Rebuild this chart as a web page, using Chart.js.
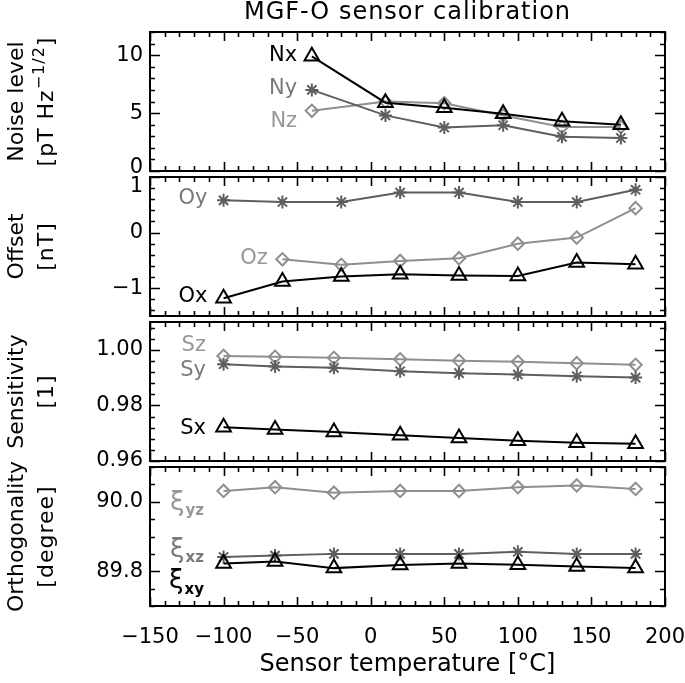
<!DOCTYPE html>
<html><head><meta charset="utf-8">
<script src="https://cdn.jsdelivr.net/npm/chart.js@4.4.1/dist/chart.umd.min.js"></script>
<style>
html,body{margin:0;padding:0;background:#fff;}
#wrap{position:relative;width:685px;height:683px;overflow:hidden;}
#wrap canvas{position:absolute;left:0;top:0;}
</style></head>
<body><div id="wrap">
<canvas id="p1" width="685" height="683"></canvas>
<canvas id="p2" width="685" height="683"></canvas>
<canvas id="p3" width="685" height="683"></canvas>
<canvas id="p4" width="685" height="683"></canvas>
</div>
<script>
// ---------- data ----------
const noiseTemps = [-40, 10, 50, 90, 130, 170];
const noiseNx = [9.9, 5.9, 5.45, 4.95, 4.3, 4.0];
const noiseNy = [7.0, 4.8, 3.75, 3.95, 2.95, 2.85];
const noiseNz = [5.2, 6.0, 5.85, 4.8, 3.8, 3.8];

const offsetTemps = [-100, -60, -20, 20, 60, 100, 140, 180];
const offsetZTemps = [-60, -20, 20, 60, 100, 140, 180];
const offsetOx = [-1.18, -0.88, -0.79, -0.75, -0.77, -0.78, -0.54, -0.57];
const offsetOy = [0.58, 0.55, 0.55, 0.72, 0.72, 0.55, 0.55, 0.77];
const offsetOz = [-0.48, -0.58, -0.51, -0.46, -0.20, -0.09, 0.44];

const calTemps = [-100, -65, -25, 20, 60, 100, 140, 180];
const sensSx = [0.9721, 0.9713, 0.9704, 0.9693, 0.9683, 0.9673, 0.9666, 0.9662];
const sensSy = [0.9948, 0.9940, 0.9935, 0.9923, 0.9916, 0.9911, 0.9905, 0.9900];
const sensSz = [0.9978, 0.9975, 0.9971, 0.9966, 0.9961, 0.9957, 0.9952, 0.9946];

const orthXY = [89.822, 89.828, 89.809, 89.818, 89.822, 89.819, 89.814, 89.809];
const orthXZ = [89.841, 89.845, 89.850, 89.850, 89.850, 89.856, 89.850, 89.850];
const orthYZ = [90.031, 90.042, 90.026, 90.031, 90.031, 90.042, 90.047, 90.037];

const xTickValues = [-150, -100, -50, 0, 50, 100, 150, 200];
const xTickLabels = ['\u2212150', '\u2212100', '\u221250', '0', '50', '100', '150', '200'];
const noiseTicks = [0, 5, 10];        const noiseTickLabels = [['0', ''], '5', '10'];
const offsetTicks = [-1, 0, 1];       const offsetTickLabels = ['\u22121', '0', ['', '1']];
const sensTicks = [0.96, 0.98, 1.00]; const sensTickLabels = ['0.96', '0.98', '1.00'];
const orthTicks = [89.8, 90.0];       const orthTickLabels = ['89.8', '90.0'];

// ---------- styling ----------
const FONT = "'DejaVu Sans', sans-serif";
const BLACK = '#000000', DARK = '#5e5e5e', LIGHT = '#8f8f8f';
const DARK_TXT = '#7a7a7a', LIGHT_TXT = '#979797';
const W = 685, H = 683, LEFT = 150, RIGHT = 665;
const PANELS = [[32, 171], [177, 316], [322, 461], [467, 606]];

function pts(xs, ys) { return xs.map((x, i) => ({x: x, y: ys[i]})); }

function ds(label, xs, ys, color, style) {
  const r = style === 'triangle' ? 8.5 : (style === 'star' ? 6.5 : 6.2);
  return {
    label: label, data: pts(xs, ys), borderColor: color, borderWidth: 2,
    pointStyle: style, pointRadius: r, pointBorderWidth: 2,
    pointBorderColor: color, pointBackgroundColor: 'rgba(0,0,0,0)', tension: 0, fill: false
  };
}

// inward ticks + box
const frame = {
  id: 'frame',
  afterDatasetsDraw(chart, args, o) {
    const ctx = chart.ctx, a = chart.chartArea, x = chart.scales.x, y = chart.scales.y;
    ctx.save();
    ctx.strokeStyle = '#000';
    ctx.lineWidth = 1.6;
    ctx.beginPath();
    const near = (v, s) => Math.abs(v / s - Math.round(v / s)) < 1e-6;
    for (let v = x.min; v <= x.max + 1e-9; v += o.xMinor) {
      const px = Math.round(x.getPixelForValue(v)) + 0.5;
      const L = near(v, o.xMajor) ? 9 : 5;
      ctx.moveTo(px, a.bottom); ctx.lineTo(px, a.bottom - L);
      ctx.moveTo(px, a.top); ctx.lineTo(px, a.top + L);
    }
    const start = Math.ceil((y.min - 1e-9) / o.yMinor) * o.yMinor;
    for (let v = start; v <= y.max + 1e-9; v += o.yMinor) {
      const py = Math.round(y.getPixelForValue(v)) + 0.5;
      const L = o.yMajors.some(m => Math.abs(m - v) < o.yMinor * 1e-3) ? 10 : 5;
      ctx.moveTo(a.left, py); ctx.lineTo(a.left + L, py);
      ctx.moveTo(a.right, py); ctx.lineTo(a.right - L, py);
    }
    ctx.stroke();
    ctx.lineWidth = 2;
    ctx.strokeRect(a.left, a.top, a.right - a.left, a.bottom - a.top);
    ctx.restore();
  }
};

// series labels, y titles, main title
const annot = {
  id: 'annot',
  afterDraw(chart, args, o) {
    const ctx = chart.ctx, a = chart.chartArea, x = chart.scales.x, y = chart.scales.y;
    ctx.save();
    ctx.textBaseline = 'middle';
    (o.labels || []).forEach(l => {
      const xr = x.getPixelForValue(l.t), yc = y.getPixelForValue(l.v);
      ctx.fillStyle = l.color;
      ctx.font = (l.size || 21) + 'px ' + FONT;
      const w1 = ctx.measureText(l.text).width;
      let w2 = 0;
      if (l.sub) { ctx.font = 'bold 15px ' + FONT; w2 = ctx.measureText(l.sub).width; }
      const x0 = xr - w1 - w2;
      ctx.textAlign = 'left';
      ctx.font = (l.size || 21) + 'px ' + FONT;
      ctx.fillText(l.text, x0, yc);
      if (l.sub) { ctx.font = 'bold 15px ' + FONT; ctx.fillText(l.sub, x0 + w1 + 1, yc + 8); }
    });
    const cy = (a.top + a.bottom) / 2;
    (o.titles || []).forEach(t => {
      ctx.save();
      ctx.translate(t.x, cy);
      ctx.rotate(-Math.PI / 2);
      ctx.fillStyle = '#000';
      ctx.letterSpacing = (t.ls || 0) + 'px';
      const parts = t.parts;
      let total = 0;
      parts.forEach(p => { ctx.font = (p.sup ? 16 : 22) + 'px ' + FONT; p.w = ctx.measureText(p.t).width; total += p.w; });
      let cx = -total / 2;
      ctx.textAlign = 'left';
      parts.forEach(p => {
        ctx.font = (p.sup ? 16 : 22) + 'px ' + FONT;
        ctx.fillText(p.t, cx, p.sup ? -7 : 0);
        cx += p.w;
      });
      ctx.restore();
    });
    if (o.mainTitle) {
      ctx.fillStyle = '#000';
      ctx.textAlign = 'center';
      ctx.letterSpacing = '1px';
      ctx.font = '24px ' + FONT;
      ctx.fillText(o.mainTitle, (a.left + a.right) / 2, 13);
    }
    ctx.restore();
  }
};

function panel(id, idx, cfg) {
  const top = PANELS[idx][0], bottom = PANELS[idx][1];
  const isLast = idx === 3;
  return new Chart(document.getElementById(id), {
    type: 'line',
    data: {datasets: cfg.datasets},
    options: {
      responsive: false, animation: false, devicePixelRatio: 1,
      layout: {padding: {top: top, bottom: isLast ? 0 : H - bottom, left: 0, right: W - RIGHT}},
      events: [],
      plugins: {
        legend: {display: false}, tooltip: {enabled: false},
        frame: {xMinor: 10, xMajor: 50, yMinor: cfg.yMinor, yMajors: cfg.yTicks},
        annot: {labels: cfg.labels, titles: cfg.titles, mainTitle: cfg.mainTitle}
      },
      scales: {
        x: {
          type: 'linear', min: -150, max: 200, display: isLast,
          grid: {display: false, drawTicks: false}, border: {display: false},
          afterBuildTicks: s => { s.ticks = xTickValues.map(v => ({value: v})); },
          afterFit: s => { if (isLast) s.height = H - bottom; s.paddingLeft = 0; s.paddingRight = 0; },
          ticks: {font: {family: FONT, size: 21}, color: '#000', padding: 19, maxRotation: 0, autoSkip: false,
                  callback: (v, i) => xTickLabels[i]},
          title: {display: isLast, text: 'Sensor temperature [\u00B0C]', font: {family: FONT, size: 24}, color: '#000',
                  padding: {top: 0, bottom: 4}}
        },
        y: {
          type: 'linear', min: cfg.min, max: cfg.max,
          grid: {display: false, drawTicks: false}, border: {display: false},
          afterBuildTicks: s => { s.ticks = cfg.yTicks.map(v => ({value: v})); },
          afterFit: s => { s.width = LEFT; s.paddingTop = 0; s.paddingBottom = 0; },
          ticks: {font: {family: FONT, size: 21, lineHeight: cfg.lh || 1.2}, color: '#000', padding: 7, autoSkip: false,
                  callback: (v, i) => cfg.yLabels[i]}
        }
      }
    },
    plugins: [frame, annot]
  });
}

const T1 = 17, T2 = 47;

panel('p1', 0, {
  min: 0, max: 12, yTicks: noiseTicks, yLabels: noiseTickLabels, yMinor: 1, lh: 0.3,
  mainTitle: 'MGF-O sensor calibration',
  datasets: [
    ds('Nx', noiseTemps, noiseNx, BLACK, 'triangle'),
    ds('Ny', noiseTemps, noiseNy, DARK, 'star'),
    ds('Nz', noiseTemps, noiseNz, LIGHT, 'rectRot')
  ],
  labels: [
    {text: 'Nx', t: -50, v: 10.0, color: BLACK},
    {text: 'Ny', t: -50, v: 7.1, color: DARK_TXT},
    {text: 'Nz', t: -50, v: 4.3, color: LIGHT_TXT}
  ],
  titles: [
    {x: T1, parts: [{t: 'Noise level'}]},
    {x: T2, ls: 1, parts: [{t: '[pT Hz'}, {t: '\u22121/2', sup: true}, {t: ']'}]}
  ]
});

panel('p2', 1, {
  min: -1.5, max: 1, yTicks: offsetTicks, yLabels: offsetTickLabels, yMinor: 0.2, lh: 0.95,
  datasets: [
    ds('Ox', offsetTemps, offsetOx, BLACK, 'triangle'),
    ds('Oy', offsetTemps, offsetOy, DARK, 'star'),
    ds('Oz', offsetZTemps, offsetOz, LIGHT, 'rectRot')
  ],
  labels: [
    {text: 'Ox', t: -111, v: -1.15, color: BLACK},
    {text: 'Oy', t: -111, v: 0.62, color: DARK_TXT},
    {text: 'Oz', t: -70, v: -0.47, color: LIGHT_TXT}
  ],
  titles: [
    {x: T1, parts: [{t: 'Offset'}]},
    {x: T2, ls: 1, parts: [{t: '[nT]'}]}
  ]
});

panel('p3', 2, {
  min: 0.96, max: 1.01, yTicks: sensTicks, yLabels: sensTickLabels, yMinor: 0.004,
  datasets: [
    ds('Sx', calTemps, sensSx, BLACK, 'triangle'),
    ds('Sy', calTemps, sensSy, DARK, 'star'),
    ds('Sz', calTemps, sensSz, LIGHT, 'rectRot')
  ],
  labels: [
    {text: 'Sx', t: -112, v: 0.9716, color: BLACK},
    {text: 'Sy', t: -112, v: 0.9924, color: DARK_TXT},
    {text: 'Sz', t: -112, v: 1.0015, color: LIGHT_TXT}
  ],
  titles: [
    {x: T1, parts: [{t: 'Sensitivity'}]},
    {x: T2, ls: 1, parts: [{t: '[1]'}]}
  ]
});

panel('p4', 3, {
  min: 89.7, max: 90.1, yTicks: orthTicks, yLabels: orthTickLabels, yMinor: 0.05,
  datasets: [
    ds('xy', calTemps, orthXY, BLACK, 'triangle'),
    ds('xz', calTemps, orthXZ, DARK, 'star'),
    ds('yz', calTemps, orthYZ, LIGHT, 'rectRot')
  ],
  labels: [
    {text: '\u03BE', sub: 'xy', size: 26, t: -114, v: 89.770, color: BLACK},
    {text: '\u03BE', sub: 'xz', size: 26, t: -114, v: 89.861, color: DARK_TXT},
    {text: '\u03BE', sub: 'yz', size: 26, t: -114, v: 89.996, color: LIGHT_TXT}
  ],
  titles: [
    {x: T1, parts: [{t: 'Orthogonality'}]},
    {x: T2, ls: 1, parts: [{t: '[degree]'}]}
  ]
});
</script>
</body></html>
